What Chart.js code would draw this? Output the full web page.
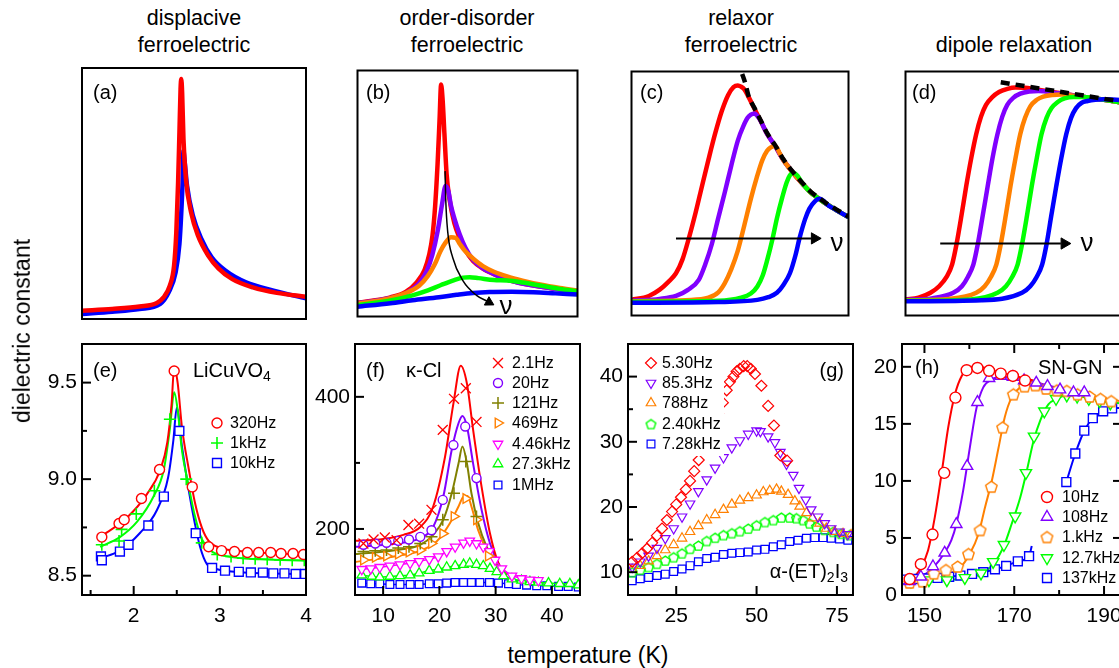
<!DOCTYPE html>
<html>
<head>
<meta charset="utf-8">
<script src="https://cdn.jsdelivr.net/npm/chart.js@4.4.1/dist/chart.umd.min.js"></script>
<style>
  html, body { margin: 0; padding: 0; background: #fff; width: 1119px; height: 668px; overflow: hidden; position: relative; }
  canvas { position: absolute; }
  .t { position: absolute; z-index: 2; font-family: 'Liberation Sans', Arial, sans-serif; color: #000; white-space: nowrap; line-height: 1.15; }
  .t sub { font-size: 70%; vertical-align: -0.3em; line-height: 0; }
</style>
</head>
<body>
<script>
// ---- schematic panels (a)-(d): x and y in percent of the box ----
const aRed = [[0,3.3],[13.5,4],[25.7,5],[33.4,6.4],[36.4,8.6],[39.2,13.3],[41.1,21.2],[42.1,34.5],[42.9,54.4],[43.5,74.4],[44,91.6],[44.3,95.6],[44.7,90.3],[45.3,71.7],[46.4,55.8],[48.7,42.5],[51.8,33.2],[56.4,25.2],[60.9,20.2],[67.1,15.9],[76.3,12.6],[87,10.4],[100,8.9]];
const aBlue = [[0,2],[13.5,2.9],[25.7,4],[34.9,6],[38.7,10.6],[41.8,18.6],[43.5,30],[44.3,42],[44.9,54.4],[45.3,67],[45.7,64],[46.9,53.1],[49.5,41.2],[53.3,31.9],[57.9,24.6],[64,19.3],[73.2,14.6],[85.5,11.3],[100,8.2]];

const bRed = [[0,5.6],[15,7.8],[21.9,10],[27,14],[30.5,19],[32.6,25.2],[34.1,33],[35.3,45],[36.4,62],[37.3,80],[38,94.3],[38.7,88],[39.5,74.4],[40.5,58],[41.8,47.8],[44,38],[46.4,31.9],[49,27],[52.5,22.6],[57,19.5],[61.7,17.3],[68,15],[75.5,13.3],[88,11.5],[100,10]];
const bPurple = [[0,5.4],[15,7.5],[22,9.5],[28,13.5],[31.5,18.5],[34,25],[36.5,35],[38.5,46],[40,53],[41.3,51],[42.5,45],[44,40],[46.4,33.5],[49,28],[52.5,23],[57,19.6],[61.7,17.4],[68,15],[75.5,13.3],[88,11.5],[100,10]];
const bOrange = [[0,5.2],[14,7.2],[22,9.5],[28,12.5],[32,16.5],[35,21],[37.7,26.5],[40,30],[42.5,32.2],[44.6,32],[46.5,29.5],[49,26.5],[52.5,23.6],[57,20.5],[62,18.2],[68,16.3],[75,14.6],[83,13],[92,11.6],[100,10.6]];
const bGreen = [[0,4.6],[15,6.5],[25,8.6],[32,10.6],[38,12.8],[44,14.8],[48,15.8],[51,16],[55,15.6],[62,14.8],[68,14.6],[75,13.8],[83,12.6],[92,11.2],[100,10.3]];
const bBlue = [[0,4],[15,5.4],[25,6.6],[37,7.8],[45,8.8],[52.5,9.6],[60,10],[70,10.1],[80,9.9],[90,9.4],[100,8.9]];
const bArrow = [[39.8,59.1],[40.1,47.8],[41,34.5],[43.3,23.9],[47.9,14.6],[54.1,8.6],[59,6.2]];
const bHead = [[59.8,5.8]];

const cTail = [[59.5,79.8],[62.5,74.4],[66.3,69.3],[70,63.7],[74.5,58.4],[79,53.8],[82.5,50.5],[86.5,47.8],[90,45.6],[94,43.4],[100,40.3]];
const cRed = [[0,6.4],[8,8],[13,10.6],[17,13.8],[20.5,17.3],[23.5,23],[26.5,31.9],[29.5,42],[32.5,53.1],[35.5,64],[38.5,74.4],[41.5,83.5],[44.5,90.3],[47,93.6],[49,94.3],[50.5,93.8],[52,92.7],[54,89.5],[56.5,85]].concat(cTail);
const cPurple = [[0,6],[13,6.8],[20.5,8],[26,10.5],[31,14.6],[34,21],[37,29.2],[40,40],[43,50.5],[46,61.5],[49,71.7],[51.5,77.5],[53.5,81],[55,82.3],[56.7,82.8],[58.2,81.5]].concat(cTail);
const cOrange = [[0,5.8],[25,6.3],[35.5,7.3],[40,9.5],[43,13.3],[46,19],[49,26.6],[52,37],[55,47.8],[57.7,56.5],[60.3,63.7],[62.5,67.5],[64,68.8],[66.3,69.5],[68,67]].concat(cTail.slice(3));
const cGreen = [[0,5.6],[40,6],[50.5,7.3],[55,9],[58,11.9],[60.5,16.5],[62.5,22.6],[65,31.5],[67,39.8],[69.5,48.5],[71.5,54.5],[73,57.5],[74.5,58.4],[76.5,57.3]].concat(cTail.slice(5));
const cBlue = [[0,5.2],[40,5.5],[58,6.4],[63,7.5],[67,9.3],[70,12.5],[73,17.3],[75.5,24.5],[77.5,31.9],[80,39.5],[82,43.8],[84.5,46.8],[86.5,47.8],[88.5,47]].concat(cTail.slice(8));
const cDash = [[51,99],[52.5,95],[54,89.8],[56.5,85.3],[59.5,80],[62.5,74.7],[66.3,69.6],[70,64],[74.5,58.7],[79,54.1],[82.5,50.8],[86.5,48.1],[90,45.9],[94,43.7],[100,40.6]];
const cArrow = [[20.5,31.6],[83,31.6]];
const cHead = [[84.4,31.6]];

const dRed = [[0,6.6],[6,7.3],[11.5,9.3],[15.5,12],[19,15.9],[21.5,21],[23.5,29.2],[25.8,41],[28,53.1],[30.3,64.5],[32.6,74.4],[34.8,81.5],[37.1,86.3],[40,89.5],[43.1,91.6],[47,92.9],[50.7,93.4],[55,93.3],[59.7,92.7],[70,91.3],[80,89.9],[90,88.6],[100,87.2]];
const dPurple = [[0,6.4],[12,7],[22,9.3],[26,12],[28.8,15.9],[31.3,21],[33.3,29.2],[35.6,41],[37.9,53.1],[40.1,64.5],[42.4,74.4],[44.6,81.5],[46.9,86.3],[49.8,89.3],[52.9,90.9],[57,91.8],[61.2,92],[70,91.1],[80,89.9],[90,88.6],[100,87.2]];
const dOrange = [[0,6.2],[20,6.8],[32.6,9.3],[36.5,12],[39.4,15.9],[41.9,21],[43.9,29.2],[46.2,41],[48.4,53.1],[50.7,64.5],[52.9,74.4],[55.1,81],[57.5,85.7],[60.5,88.4],[63.5,89.7],[67.5,90.4],[71.8,90.6],[80,89.7],[90,88.6],[100,87.2]];
const dGreen = [[0,6],[30,6.6],[42.4,9.3],[46.3,12],[49.2,15.9],[51.7,21],[53.7,29.2],[56,41],[58.2,53.1],[60.5,64.5],[62.7,74.4],[65,81],[67.3,85],[70.3,87.6],[73.3,89],[77.5,89.6],[82.4,89.6],[90,88.6],[100,87.2]];
const dBlue = [[0,5.8],[35,6.2],[53.7,9.3],[57.5,12],[60.5,15.9],[63,21],[65,29.2],[67.2,41],[69.5,53.1],[71.8,64.5],[74.1,74.4],[76.3,81],[78.6,85],[81.2,87.2],[83.9,87.9],[87.5,88.4],[91.4,88.6],[100,88.3]];
const dDash = [[43.9,95.6],[100,87.6]];
const dArrow = [[16,29.5],[71.6,29.5]];
const dHead = [[73.2,29.5]];

// ---- (e) LiCuVO4 ----
const eRedFit = [[1.61,8.70],[1.92,8.80],[2.15,8.92],[2.31,9.05],[2.39,9.19],[2.44,9.39],[2.47,9.58],[2.51,9.50],[2.56,9.27],[2.64,9.05],[2.71,8.88],[2.79,8.75],[2.87,8.68],[3.00,8.645],[3.28,8.625],[4.0,8.61]];
const eRedPts = [[1.63,8.70],[1.83,8.77],[1.89,8.79],[2.09,8.90],[2.30,9.05],[2.47,9.56],[2.68,8.96],[2.87,8.65],[3.02,8.63],[3.17,8.625],[3.32,8.62],[3.45,8.62],[3.59,8.62],[3.71,8.615],[3.85,8.615],[3.97,8.61]];
const eGreenFit = [[1.61,8.65],[1.84,8.70],[2.04,8.78],[2.23,8.91],[2.35,9.05],[2.42,9.26],[2.47,9.45],[2.51,9.36],[2.56,9.15],[2.64,8.96],[2.71,8.81],[2.79,8.69],[2.89,8.63],[3.08,8.60],[3.47,8.585],[4.0,8.578]];
const eGreenPts = [[1.63,8.66],[1.83,8.68],[1.86,8.74],[2.03,8.82],[2.24,8.94],[2.42,9.31],[2.61,9.00],[2.79,8.67],[2.97,8.61],[3.13,8.60],[3.27,8.59],[3.41,8.588],[3.55,8.585],[3.70,8.582],[3.84,8.58],[3.98,8.58]];
const eBlueFit = [[1.61,8.59],[1.84,8.63],[2.07,8.72],[2.27,8.84],[2.40,9.01],[2.46,9.20],[2.50,9.37],[2.56,9.17],[2.64,8.94],[2.71,8.77],[2.77,8.65],[2.85,8.56],[2.97,8.533],[3.28,8.517],[4.0,8.509]];
const eBluePts = [[1.62,8.60],[1.63,8.58],[1.84,8.625],[1.94,8.66],[2.17,8.76],[2.35,8.91],[2.53,9.25],[2.72,8.72],[2.91,8.54],[3.06,8.526],[3.22,8.52],[3.36,8.517],[3.50,8.516],[3.62,8.512],[3.75,8.512],[3.88,8.509],[3.99,8.509]];
const eLabels = ['320Hz', '1kHz', '10kHz'];

// ---- (f) kappa-Cl ----
const fRedFit = [[5,182],[9.4,184],[13.6,191],[16.6,203],[18.9,234],[21.0,309],[22.5,390],[23.8,447],[24.9,420],[26.0,350],[27.5,264],[29.0,193],[30.5,148],[32.0,130]];
const fRedPts = [[6.5,178],[8.3,184],[10.3,187],[12.4,183],[14.5,206],[16.4,208],[18.6,229],[20.6,350],[22.6,397],[24.7,413],[26.6,362]];
const fPurpleFit = [[5,173],[12.4,178],[16.6,186],[18.9,203],[20.7,249],[22.2,320],[23.4,360],[24.1,371],[24.9,355],[26.0,299],[27.5,229],[29.0,178],[30.8,143],[32.0,130]];
const fPurplePts = [[6.5,176],[8.6,178],[10.6,179],[12.7,182],[14.6,184],[16.6,188],[18.6,198],[20.6,244],[22.5,327],[24.6,355],[26.6,277]];
const fOliveFit = [[5,162],[12.4,168],[16.6,176],[18.9,191],[20.7,214],[22.2,254],[23.4,299],[24.1,325],[24.9,299],[25.7,254],[26.9,209],[28.4,173],[30.2,148],[32.0,130]];
const fOlivePts = [[6.5,166],[8.6,167],[10.6,168],[12.7,171],[14.6,173],[16.6,178],[18.6,188],[20.6,214],[22.6,254],[24.7,302],[26.6,219]];
const fOrangeFit = [[5,150],[12.4,159],[16.6,167],[19.5,181],[21.9,209],[23.4,234],[24.3,249],[25.0,250],[25.7,234],[26.9,198],[28.4,168],[30.2,145],[32.0,130]];
const fOrangePts = [[6.5,153],[8.6,157],[10.6,159],[12.7,162],[14.6,165],[16.6,168],[18.6,178],[20.6,193],[22.6,219],[24.7,246],[26.6,214],[28.7,159]];
const fMagenta = [[6.2,139],[7.8,140],[9.4,142],[11.2,144],[13.0,146],[14.8,148],[16.4,151],[18.2,154],[19.8,158],[21.3,166],[22.8,173],[24.3,179],[25.4,182],[26.6,178],[27.8,173],[28.9,166],[29.9,153],[31.1,140],[32.9,129],[34.6,125],[36.1,123],[37.6,122]];
const fGreen = [[6.2,130],[8.0,128],[9.4,127],[11.2,128],[13.0,129],[14.8,130],[16.4,133],[18.2,137],[19.8,139],[21.3,142],[22.8,144],[24.3,146],[25.4,148],[26.6,146],[27.8,144],[29.0,140],[30.2,135],[31.4,129],[32.9,124],[34.6,122],[36.1,120],[37.6,119],[39.4,118],[41.4,117],[43.2,117],[44.7,115]];
const fBlue = [[6.2,118],[7.8,117],[9.4,117],[11.2,116],[13.0,116],[14.8,116],[16.4,116],[18.2,117],[19.8,117],[21.3,118],[22.8,119],[24.3,119],[25.7,119],[27.2,119],[28.9,119],[30.5,118],[32.3,117],[33.7,116],[35.5,115],[37.3,114],[39.1,114],[41.2,113],[42.9,113],[44.7,112]];
const fLabels = ['2.1Hz', '20Hz', '121Hz', '469Hz', '4.46kHz', '27.3kHz', '1MHz'];

// ---- (g) alpha-(ET)2I3 ----
const gRed = [[11.3,11.6],[12.8,12.2],[14.4,12.9],[15.9,13.6],[17.5,14.5],[19.0,15.6],[20.6,16.7],[22.1,18.0],[23.7,19.3],[25.0,20.4],[26.5,21.5],[28.0,22.7],[29.3,24.0],[30.6,25.5],[32.0,27.2],[33.5,29.0],[35.0,30.8],[36.5,32.6],[38.0,34.3],[39.5,36.0],[40.7,37.9],[41.7,39.2],[42.8,40.0],[43.8,40.8],[44.8,41.2],[46.0,41.6],[47.1,41.6],[48.2,41.2],[49.5,40.4],[51.5,38.6],[53.6,35.5],[55.4,32.5],[57.4,27.9],[59.5,27.1]];
const gPurple = [[11.3,10.8],[13.8,11.6],[16.4,12.5],[19.0,13.7],[21.6,15.2],[24.2,16.7],[26.8,18.5],[29.3,20.5],[31.9,22.4],[34.5,24.2],[37.1,26.0],[39.7,27.6],[42.3,29.1],[44.8,30.2],[47.4,31.2],[50.0,31.7],[51.2,31.6],[53.6,30.8],[55.7,29.9],[57.4,28.4],[59.3,26.6],[61.4,24.9],[63.2,22.9],[65.3,21.1],[67.0,19.6],[69.1,18.5],[71.2,17.5],[73.2,16.7],[75.8,16.2],[78.4,15.8]];
const gOrange = [[11.3,10.4],[13.8,11.0],[16.4,11.7],[19.0,12.5],[21.6,13.4],[24.2,14.2],[26.8,15.2],[29.3,16.2],[31.9,17.1],[34.5,18.0],[37.1,18.8],[39.7,19.6],[42.3,20.4],[44.8,21.0],[47.4,21.4],[50.0,21.8],[52.1,22.3],[54.1,22.5],[56.2,22.7],[57.7,22.4],[59.8,21.9],[61.9,20.9],[63.4,20.1],[65.5,19.1],[67.4,18.3],[69.6,17.5],[71.7,16.7],[74.3,16.2],[76.9,15.9],[79.4,15.7]];
const gGreen = [[11.3,10.0],[13.8,10.4],[16.4,10.8],[19.0,11.3],[21.6,11.8],[24.2,12.3],[26.8,12.9],[29.3,13.6],[31.9,14.1],[34.5,14.8],[37.1,15.3],[39.7,15.7],[42.3,16.0],[44.8,16.3],[47.4,16.7],[50.0,17.2],[52.6,17.7],[55.2,18.0],[57.7,18.4],[60.3,18.4],[62.4,18.3],[64.5,18.0],[66.5,17.5],[68.6,17.0],[71.2,16.5],[73.8,16.2],[76.3,15.9],[78.9,15.7]];
const gBlue = [[11.3,8.7],[13.8,9.0],[16.4,9.2],[19.0,9.5],[21.6,9.7],[24.2,10.1],[26.8,10.5],[29.3,11.0],[31.9,11.6],[34.5,12.1],[37.1,12.3],[39.7,12.7],[42.3,12.9],[44.8,13.0],[47.4,13.1],[50.0,13.4],[52.6,13.5],[55.2,13.9],[57.7,14.2],[60.3,14.7],[62.9,14.9],[65.5,15.2],[68.1,15.3],[70.7,15.3],[73.2,15.2],[75.8,15.1],[78.4,14.9]];
const gLabels = ['5.30Hz', '85.3Hz', '788Hz', '2.40kHz', '7.28kHz'];

// ---- (h) SN-GN ----
const hRedFit = [[145,1.5],[147.5,1.6],[149.2,2.4],[150.8,3.9],[152.3,6.8],[153.8,10.6],[155.3,14.7],[156.8,17.6],[158.3,19.2],[160.1,19.9],[162.0,20.0],[165.3,19.65],[169.1,19.3],[174.3,18.8]];
const hRedPts = [[146.7,1.4],[149.2,2.7],[151.8,5.3],[154.4,10.7],[156.9,17.3],[159.4,19.7],[161.8,19.9],[164.4,19.65],[167.0,19.4],[169.7,19.2],[172.4,18.8]];
const hPurpleFit = [[145,1.4],[149,1.6],[151.9,2.4],[154.5,3.7],[156,4.8],[157.1,6.2],[158.6,9.1],[160.1,12.9],[161.6,16.4],[163.1,18.2],[165.0,18.9],[167.6,19.1],[170.6,19.06],[174.3,18.7],[180.2,18.1],[186.2,17.75]];
const hPurplePts = [[146.7,1.2],[149.2,1.6],[151.9,2.5],[154.5,3.7],[157.1,6.2],[159.5,11.3],[161.8,16.9],[164.4,19.0],[167.0,19.2],[169.7,19.1],[172.2,18.8],[174.9,18.6],[177.4,18.3],[180.2,18.0],[183.2,17.75],[185.6,17.75]];
const hOrangeFit = [[145,1.3],[154.2,1.7],[157.9,2.4],[160.1,3.6],[162.0,5.3],[163.5,7.7],[165.0,10.0],[166.5,12.9],[167.9,15.6],[169.4,17.3],[171.3,18.2],[173.5,18.5],[177.3,18.2],[184.0,17.7],[193.4,17.0]];
const hOrangePts = [[146.7,1.1],[149.6,1.2],[152.1,1.9],[154.8,2.2],[157.4,2.5],[159.8,3.6],[162.4,5.7],[164.9,9.5],[167.4,14.7],[169.8,17.6],[172.3,18.3],[174.7,18.4],[177.1,18.1],[179.5,17.95],[181.7,17.9],[184.1,17.6],[186.8,17.4],[189.2,17.2],[191.6,17.0]];
const hGreenFit = [[145,1.2],[157.9,1.4],[162.4,1.8],[165.3,2.7],[167.6,4.2],[169.4,6.2],[171.3,8.5],[172.8,10.9],[174.3,13.5],[175.8,15.3],[177.6,16.7],[179.5,17.2],[181.7,17.5],[187.7,17.2],[193.4,16.8]];
const hGreenPts = [[147,1.2],[151,1.3],[155,1.3],[159,1.5],[162.6,1.9],[165.3,2.9],[167.7,4.4],[170.2,6.9],[172.6,10.7],[174.4,13.9],[176.7,16.1],[179.3,17.2],[181.7,17.5],[184.0,17.4],[186.6,17.2],[189.0,17.0],[191.4,16.8]];
const hBlueLow = [[145.2,1.35],[147.8,1.4],[150.3,1.45],[152.9,1.5],[155.5,1.6],[158.0,1.7],[160.6,1.85],[163.1,2.0],[165.7,2.25],[168.2,2.55],[170.8,2.95],[173.3,3.4]];
const hBlueLowEnd = [[173.9,4.3]];
const hBlueHigh = [[181.6,9.9],[183.6,12.4],[185.6,14.4],[187.5,15.5],[189.8,16.1],[191.8,16.35]];
const hBlueHighEnd = [[193.4,16.4]];
const hLabels = ['10Hz', '108Hz', '1.kHz', '12.7kHz', '137kHz'];

// ---- drawing ----
const FONT = "'Liberation Sans', Arial, sans-serif";
Chart.defaults.font.family = FONT;
Chart.defaults.font.size = 21;
Chart.defaults.color = '#000';

const RED = '#ff0000', PURPLE = '#8000ff', ORANGE = '#ff8000', GREEN = '#00ff00',
      BLUE = '#0000ff', OLIVE = '#808000', MAGENTA = '#ff00ff';

function pts(arr) { return arr.map(p => ({x: p[0], y: p[1]})); }

function curve(arr, color, width, extra) {
  return Object.assign({
    data: pts(arr), borderColor: color, backgroundColor: color, borderWidth: width,
    pointRadius: 0, pointHoverRadius: 0, showLine: true, cubicInterpolationMode: 'monotone'
  }, extra || {});
}

function marks(arr, color, style, radius, extra) {
  return Object.assign({
    data: pts(arr), showLine: false, borderColor: color, pointStyle: style, pointRadius: radius,
    pointHoverRadius: radius, pointBorderColor: color, pointBackgroundColor: '#fff', pointBorderWidth: 1.4
  }, extra || {});
}

function pentagon(color, size, fill) {
  const c = document.createElement('canvas');
  c.width = c.height = size + 3;
  const g = c.getContext('2d');
  const r = size / 2, cx = c.width / 2, cy = c.height / 2 + 0.6;
  g.beginPath();
  for (let k = 0; k < 5; k++) {
    const a = -Math.PI / 2 + k * 2 * Math.PI / 5;
    g.lineTo(cx + r * Math.cos(a), cy + r * Math.sin(a));
  }
  g.closePath();
  if (fill) { g.fillStyle = fill; g.fill(); }
  g.strokeStyle = color; g.lineWidth = 1.4; g.stroke();
  return c;
}

// frame, inward ticks, legend markers
const framePlugin = {
  id: 'frame',
  afterDatasetsDraw(chart, args, o) {
    const {ctx, chartArea: a} = chart;
    const sx = chart.scales.x, sy = chart.scales.y;
    ctx.save();
    if (o.cover) {
      ctx.fillStyle = '#fff';
      ctx.fillRect(o.cover[0] - o.ox, o.cover[1] - o.oy, o.cover[2] - o.cover[0], o.cover[3] - o.cover[1]);
    }
    (o.legend || []).forEach(e => {
      const ds = chart.data.datasets[e.ds];
      ctx.strokeStyle = ds.pointBorderColor;
      ctx.fillStyle = ds.pointBackgroundColor;
      ctx.lineWidth = ds.pointBorderWidth;
      Chart.helpers.drawPoint(ctx, {
        pointStyle: ds.pointStyle, radius: ds.pointRadius,
        rotation: ds.pointRotation || 0, borderWidth: ds.pointBorderWidth
      }, o.lx - o.ox, e.y - o.oy);
    });
    ctx.strokeStyle = '#000';
    ctx.lineWidth = 2;
    ctx.strokeRect(a.left, a.top, a.right - a.left, a.bottom - a.top);
    if (o.ticks) {
      const line = (x0, y0, x1, y1) => { ctx.beginPath(); ctx.moveTo(x0, y0); ctx.lineTo(x1, y1); ctx.stroke(); };
      const xt = (v, len) => {
        const p = sx.getPixelForValue(v);
        line(p, a.bottom, p, a.bottom - len);
        if (o.mirror) line(p, a.top, p, a.top + len);
      };
      const yt = (v, len) => {
        const p = sy.getPixelForValue(v);
        line(a.left, p, a.left + len, p);
        if (o.mirror) line(a.right, p, a.right - len, p);
      };
      sx.ticks.forEach(t => xt(t.value, 9));
      sy.ticks.forEach(t => yt(t.value, 9));
      (o.xMinor || []).forEach(v => xt(v, 5));
      (o.yMinor || []).forEach(v => yt(v, 5));
    }
    ctx.restore();
  }
};

function axisCfg(ax, isX) {
  return {
    type: 'linear', min: ax.min, max: ax.max,
    grid: {display: false, drawTicks: false},
    border: {display: false},
    ticks: {padding: isX ? 9 : 5, color: '#000', font: {size: 21}, callback: ax.fmt || (v => String(v))},
    afterBuildTicks: s => { s.ticks = ax.ticks.map(v => ({value: v})); },
    afterFit: s => {
      if (isX) s.height = 40; else s.width = 50;
      s.paddingLeft = 0; s.paddingRight = 0; s.paddingTop = 0; s.paddingBottom = 0;
    }
  };
}

function panel(box, datasets, opts) {
  const [l, t, r, b] = box;
  const schematic = !opts.x;
  const m = schematic ? [4, 4, 4, 4] : [50, 18, 14, 40]; // left, right, top, bottom
  const w = r - l + m[0] + m[1], h = b - t + m[2] + m[3];
  const cv = document.createElement('canvas');
  cv.width = w; cv.height = h;
  Object.assign(cv.style, {left: (l - m[0]) + 'px', top: (t - m[2]) + 'px', width: w + 'px', height: h + 'px'});
  document.body.appendChild(cv);
  const scales = schematic
    ? {x: {type: 'linear', min: 0, max: 100, display: false}, y: {type: 'linear', min: 0, max: 100, display: false}}
    : {x: axisCfg(opts.x, true), y: axisCfg(opts.y, false)};
  new Chart(cv, {
    type: 'scatter',
    data: {datasets},
    options: {
      responsive: false, animation: false, events: [],
      layout: {padding: schematic ? 4 : {left: 0, right: m[1], top: m[2], bottom: 0}},
      plugins: {
        legend: {display: false}, tooltip: {enabled: false},
        frame: {
          ox: l - m[0], oy: t - m[2], ticks: !schematic, mirror: !!opts.mirror,
          xMinor: opts.x ? opts.x.minor : [], yMinor: opts.y ? opts.y.minor : [],
          legend: opts.legend || [], lx: opts.lx || 0, cover: opts.cover || null
        }
      },
      scales
    },
    plugins: [framePlugin]
  });
}

function label(html, x, y, size, align) {
  const d = document.createElement('div');
  d.className = 't';
  d.innerHTML = html;
  d.style.fontSize = size + 'px';
  d.style.left = x + 'px';
  d.style.top = y + 'px';
  const tx = align === 'center' ? '-50%' : align === 'right' ? '-100%' : '0';
  d.style.transform = 'translate(' + tx + ', -50%)';
  document.body.appendChild(d);
  return d;
}

const LW = 4.5, CLIP = {clip: 0};
const head = (arr, rot, r) => marks(arr, '#000', 'triangle', r, {pointRotation: rot, pointBackgroundColor: '#000', pointBorderWidth: 1, clip: 0});

// top row
panel([82, 68, 306, 319], [
  curve(aRed, RED, LW, CLIP), curve(aBlue, BLUE, LW, CLIP)
], {});
panel([355, 68, 580, 319], [
  curve(bArrow, '#000', 1.5, CLIP), head(bHead, 119, 5.5),
  curve(bBlue, BLUE, LW, CLIP), curve(bGreen, GREEN, LW, CLIP), curve(bOrange, ORANGE, LW, CLIP),
  curve(bPurple, PURPLE, LW, CLIP), curve(bRed, RED, LW, CLIP)
], {});
panel([628, 68, 852, 319], [
  curve(cDash, '#000', LW, {clip: 0, borderDash: [9, 6]}),
  curve(cArrow, '#000', 2, CLIP), head(cHead, 90, 6.5),
  curve(cBlue, BLUE, LW, CLIP), curve(cGreen, GREEN, LW, CLIP), curve(cOrange, ORANGE, LW, CLIP),
  curve(cPurple, PURPLE, LW, CLIP), curve(cRed, RED, LW, CLIP)
], {});
panel([902, 68, 1126, 319], [
  curve(dDash, '#000', LW, {clip: 0, borderDash: [9, 6]}),
  curve(dArrow, '#000', 2, CLIP), head(dHead, 90, 6.5),
  curve(dBlue, BLUE, LW, CLIP), curve(dGreen, GREEN, LW, CLIP), curve(dOrange, ORANGE, LW, CLIP),
  curve(dPurple, PURPLE, LW, CLIP), curve(dRed, RED, LW, CLIP)
], {});

// bottom row
panel([82, 344, 306, 595], [
  marks(eRedPts, RED, 'circle', 5), marks(eGreenPts, GREEN, 'cross', 6, {pointBorderWidth: 1.6}), marks(eBluePts, BLUE, 'rect', 6.3),
  curve(eRedFit, RED, 2), curve(eGreenFit, GREEN, 2), curve(eBlueFit, BLUE, 2)
], {
  x: {min: 1.4, max: 4, ticks: [2, 3, 4], minor: [1.5, 2.5, 3.5]},
  y: {min: 8.4, max: 9.7, ticks: [8.5, 9.0, 9.5], minor: [8.75, 9.25], fmt: v => v.toFixed(1)},
  lx: 217, legend: [{ds: 0, y: 423}, {ds: 1, y: 443}, {ds: 2, y: 463}]
});

const orangeRight = {pointRotation: 90};
panel([355, 344, 580, 595], [
  marks(fRedPts, RED, 'crossRot', 7, {pointBorderWidth: 1.3}),
  marks(fPurplePts, PURPLE, 'circle', 4.5),
  marks(fOlivePts, OLIVE, 'cross', 6, {pointBorderWidth: 1.5}),
  marks(fOrangePts, ORANGE, 'triangle', 5.5, orangeRight),
  curve(fMagenta, MAGENTA, 1.5, {pointStyle: 'triangle', pointRotation: 180, pointRadius: 5.5, pointBorderColor: MAGENTA, pointBackgroundColor: '#fff', pointBorderWidth: 1.3, cubicInterpolationMode: 'default', tension: 0}),
  curve(fGreen, GREEN, 1.5, {pointStyle: 'triangle', pointRadius: 5.5, pointBorderColor: GREEN, pointBackgroundColor: '#fff', pointBorderWidth: 1.3, cubicInterpolationMode: 'default', tension: 0}),
  curve(fBlue, BLUE, 1.5, {pointStyle: 'rect', pointRadius: 5.5, pointBorderColor: BLUE, pointBackgroundColor: '#fff', pointBorderWidth: 1.3, cubicInterpolationMode: 'default', tension: 0}),
  curve(fRedFit, RED, 2), curve(fPurpleFit, PURPLE, 2), curve(fOliveFit, OLIVE, 2), curve(fOrangeFit, ORANGE, 2)
], {
  x: {min: 5, max: 45, ticks: [10, 20, 30, 40], minor: []},
  y: {min: 100, max: 480, ticks: [200, 400], minor: [300]},
  lx: 498, legend: [363, 383, 403, 423, 444, 464, 485].map((y, i) => ({ds: i, y}))
});

const gPent = pentagon(GREEN, 10, null);
panel([628, 344, 853, 595], [
  marks(gRed, RED, 'rectRot', 5.5, {pointBackgroundColor: 'rgba(0,0,0,0)', pointBorderWidth: 1.2}),
  marks(gPurple, PURPLE, 'triangle', 5.5, {pointRotation: 180, pointBackgroundColor: 'rgba(0,0,0,0)', pointBorderWidth: 1.2}),
  marks(gOrange, ORANGE, 'triangle', 5.5, {pointBackgroundColor: 'rgba(0,0,0,0)', pointBorderWidth: 1.2}),
  marks(gGreen, GREEN, gPent, 5.5, {pointBackgroundColor: 'rgba(0,0,0,0)'}),
  marks(gBlue, BLUE, 'rect', 5.5, {pointBackgroundColor: 'rgba(0,0,0,0)', pointBorderWidth: 1.2})
], {
  x: {min: 10, max: 80, ticks: [25, 50, 75], minor: []},
  y: {min: 6.5, max: 45, ticks: [10, 20, 30, 40], minor: [15, 25, 35]},
  lx: 651, legend: [363, 383, 403, 424, 444].map((y, i) => ({ds: i, y})),
  cover: [640, 352, 724, 456]
});

const hPent = pentagon(ORANGE, 12, '#fff');
panel([902, 344, 1122, 595], [
  marks(hRedPts, RED, 'circle', 5.5),
  marks(hPurplePts, PURPLE, 'triangle', 6.5),
  marks(hOrangePts, ORANGE, hPent, 6),
  marks(hGreenPts, GREEN, 'triangle', 6.5, {pointRotation: 180}),
  marks(hBlueLow.concat(hBlueHigh), BLUE, 'rect', 6.3),
  curve(hRedFit, RED, 2), curve(hPurpleFit, PURPLE, 2), curve(hOrangeFit, ORANGE, 2), curve(hGreenFit, GREEN, 2),
  curve(hBlueLow.concat(hBlueLowEnd), BLUE, 2), curve(hBlueHigh.concat(hBlueHighEnd), BLUE, 2)
], {
  x: {min: 145, max: 194, ticks: [150, 170, 190], minor: [160, 180]},
  y: {min: 0, max: 22, ticks: [0, 5, 10, 15, 20], minor: []},
  mirror: true,
  lx: 1047, legend: [497, 517, 537, 558, 578].map((y, i) => ({ds: i, y}))
});

// ---- text ----
const TS = 21.5;
label('displacive', 194, 18, TS, 'center');
label('ferroelectric', 194, 45, TS, 'center');
label('order-disorder', 467, 18, TS, 'center');
label('ferroelectric', 467, 45, TS, 'center');
label('relaxor', 741, 18, TS, 'center');
label('ferroelectric', 741, 45, TS, 'center');
label('dipole relaxation', 1014, 45, TS, 'center');

[['(a)', 93], ['(b)', 366], ['(c)', 640], ['(d)', 912]].forEach(([s, x]) => label(s, x, 92, 20));
label('&nu;', 506, 306, 26, 'center');
label('&nu;', 837, 243, 26, 'center');
label('&nu;', 1087, 243, 26, 'center');

label('(e)', 93, 370, 20);
label('LiCuVO<sub>4</sub>', 193, 370, 20);
label('(f)', 366, 370, 20);
label('&kappa;-Cl', 406, 370, 20);
label('(g)', 844, 370, 20, 'right');
label('&alpha;-(ET)<sub>2</sub>I<sub>3</sub>', 848, 571, 20, 'right');
label('(h)', 915, 367, 20);
label('SN-GN', 1038, 367, 20);

eLabels.forEach((s, i) => label(s, 230, [423, 443, 463][i], 16));
fLabels.forEach((s, i) => label(s, 512, [363, 383, 403, 423, 444, 464, 485][i], 16));
gLabels.forEach((s, i) => label(s, 662, [363, 383, 403, 424, 444][i], 16));
hLabels.forEach((s, i) => label(s, 1062, [497, 517, 537, 558, 578][i], 16));

label('temperature (K)', 588, 655, 23, 'center');
const yt = label('dielectric constant', 22, 331, 23);
yt.style.transform = 'translate(-50%, -50%) rotate(-90deg)';
</script>
</body>
</html>
